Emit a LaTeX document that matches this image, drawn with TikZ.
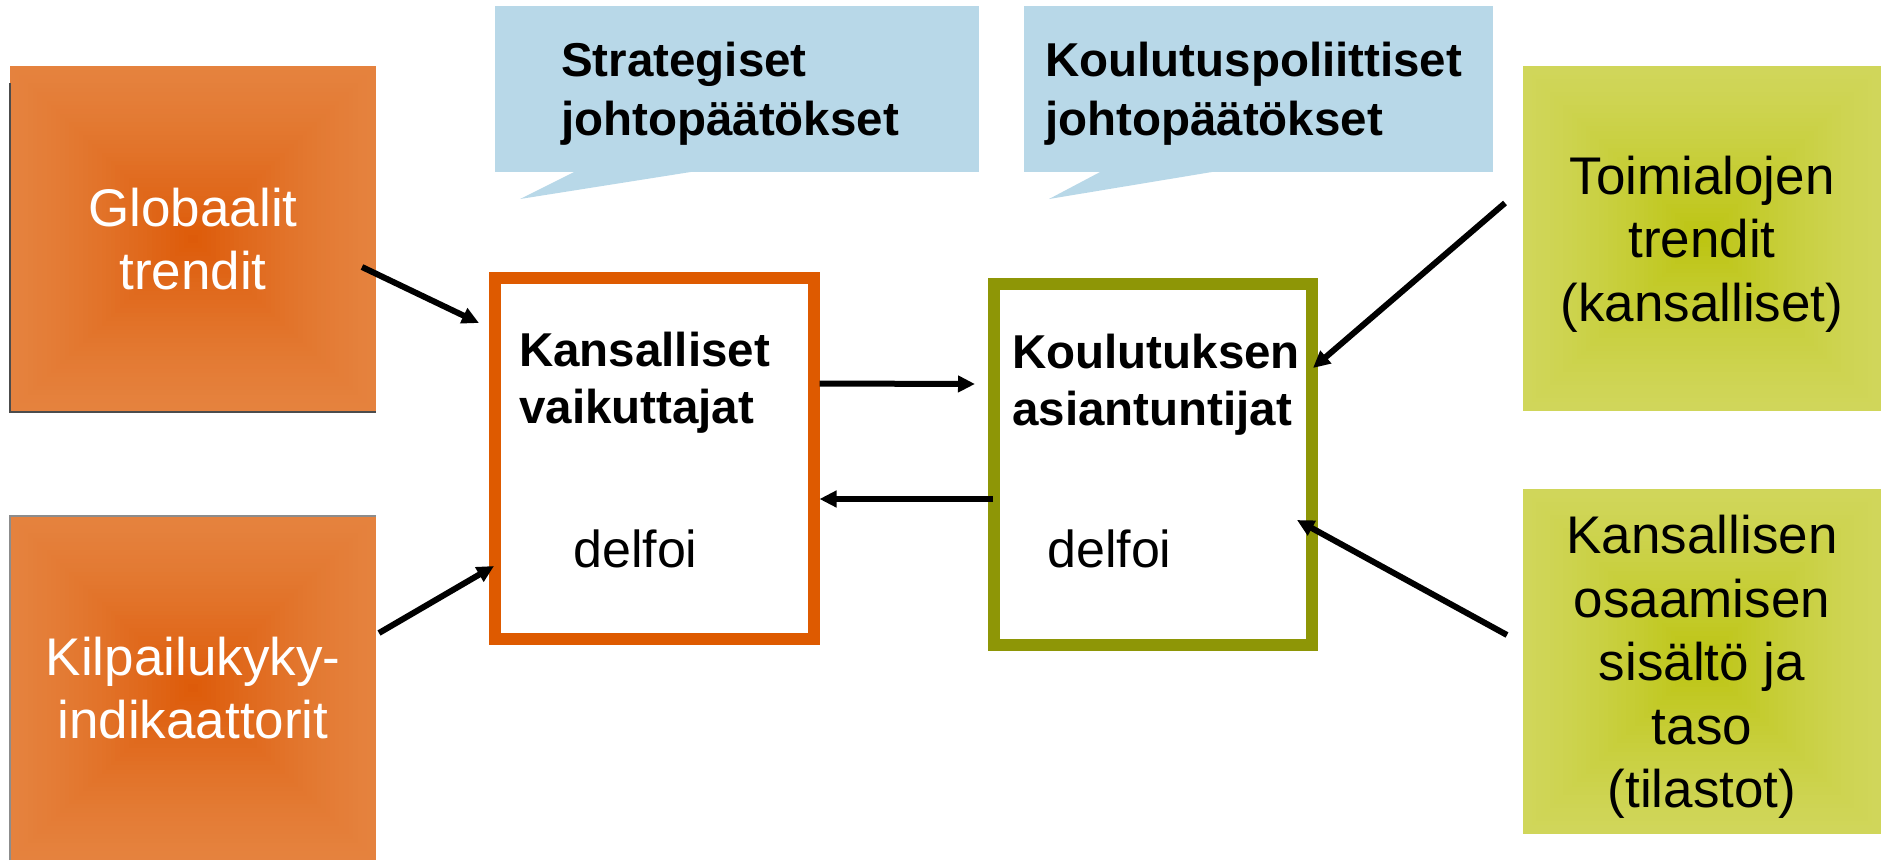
\documentclass[tikz,border=0pt]{standalone}
\usepackage{fontspec}
\setmainfont{Liberation Sans}
\usetikzlibrary{arrows.meta,calc}
\definecolor{orOut}{RGB}{229,130,62}
\definecolor{orIn}{RGB}{221,90,8}
\definecolor{grOut}{RGB}{208,214,90}
\definecolor{grIn}{RGB}{188,196,16}
\definecolor{callblue}{RGB}{184,216,232}
\definecolor{orBorder}{RGB}{222,90,0}
\definecolor{olBorder}{RGB}{142,150,6}
\tikzset{
  rectgrad/.style 2 args={fill=#1, path picture={
    \foreach \gi in {0,...,40}{
      \pgfmathsetmacro\gf{1-\gi/40}
      \pgfmathsetmacro\gp{100*(\gi/40)^1.3}
      \fill[#2!\gp!#1] ($(path picture bounding box.center)!\gf!(path picture bounding box.south west)$) rectangle ($(path picture bounding box.center)!\gf!(path picture bounding box.north east)$);
    }}},
  srcbox/.style={inner sep=0pt, outer sep=0pt, align=center, font=\fontsize{53}{63.6}\selectfont},
  midbox/.style={inner sep=0pt, outer sep=6pt, line width=12pt, fill=white},
  boldtxt/.style={inner sep=0pt, anchor=base west, font=\fontsize{47.5}{#1}\selectfont\bfseries},
  regtxt/.style={inner sep=0pt, anchor=base west, font=\fontsize{52}{62}\selectfont},
  arr/.style={line width=6pt, -{Triangle[length=17pt,width=16pt]}},
}
\begin{document}
\begin{tikzpicture}[x=1pt,y=-1pt]
\useasboundingbox (0,0) rectangle (1881,860);
% source boxes
\node[srcbox, rectgrad={orOut}{orIn}, text=white, minimum width=366, minimum height=346] (glob) at (193,239) {Globaalit\\trendit};
\node[srcbox, rectgrad={orOut}{orIn}, text=white, minimum width=366, minimum height=344] (kil) at (193,688) {Kilpailukyky-\\indikaattorit};
\node[srcbox, rectgrad={grOut}{grIn}, text=black, minimum width=358, minimum height=345] (toim) at (1702,238.5) {Toimialojen\\trendit\\\raisebox{0pt}[\height][0pt]{(kansalliset)}};
\node[srcbox, rectgrad={grOut}{grIn}, text=black, minimum width=358, minimum height=345] (kans) at (1702,661.5) {Kansallisen\\osaamisen\\sisältö ja\\taso\\\raisebox{0pt}[\height][0pt]{(tilastot)}};
\draw[line width=1.5pt, black!70] ([shift={(0,17)}]glob.north west) -- (glob.south west) -- (glob.south east);
\draw[line width=1.5pt, black!45] (kil.south west) -- (kil.north west) -- (kil.north east);
% callouts
\fill[callblue] (495,6) rectangle (979,172);
\fill[callblue] (576,171) -- (520,199) -- (697,171) -- cycle;
\fill[callblue] (1024,6) rectangle (1493,172);
\fill[callblue] (1102,171) -- (1049,199) -- (1218,171) -- cycle;
\node[boldtxt=59] (strat) at (561,76) {\vtop{\hbox{Strategiset}\hbox{johtopäätökset}}};
\node[boldtxt=59] (koul) at (1045,76) {\vtop{\hbox{Koulutuspoliittiset}\hbox{johtopäätökset}}};
% middle boxes
\node[midbox, draw=orBorder, minimum width=318.5, minimum height=361] (kv) at (654.25,458.5) {};
\node[midbox, draw=olBorder, minimum width=318, minimum height=361] (ka) at (1153,464.5) {};
\node[boldtxt=57] (kvt) at (519,366) {\vtop{\hbox{Kansalliset}\hbox{vaikuttajat}}};
\node[regtxt] (kvd) at (573,567) {delfoi};
\node[boldtxt=57] (kat) at (1012,368) {\vtop{\hbox{Koulutuksen}\hbox{asiantuntijat}}};
\node[regtxt] (kad) at (1047,567) {delfoi};
% arrows
\draw[arr] ([shift={(-14,28)}]glob.east) -- ([shift={(-10,51)}]kv.north west);
\draw[arr] ([shift={(3,-55)}]kil.east) -- ([shift={(5,-79)}]kv.south west);
\draw[arr] ([shift={(0,-75)}]kv.east) -- ([shift={(-13,-80.5)}]ka.west);
\draw[arr] ([shift={(5,34.5)}]ka.west) -- ([shift={(0,40.5)}]kv.east);
\draw[arr] ([shift={(-18,-35.5)}]toim.west) -- ([shift={(-5,-96.5)}]ka.east);
\draw[arr] ([shift={(-16,-26.5)}]kans.west) -- ([shift={(-21,55.5)}]ka.east);
\end{tikzpicture}
\end{document}
